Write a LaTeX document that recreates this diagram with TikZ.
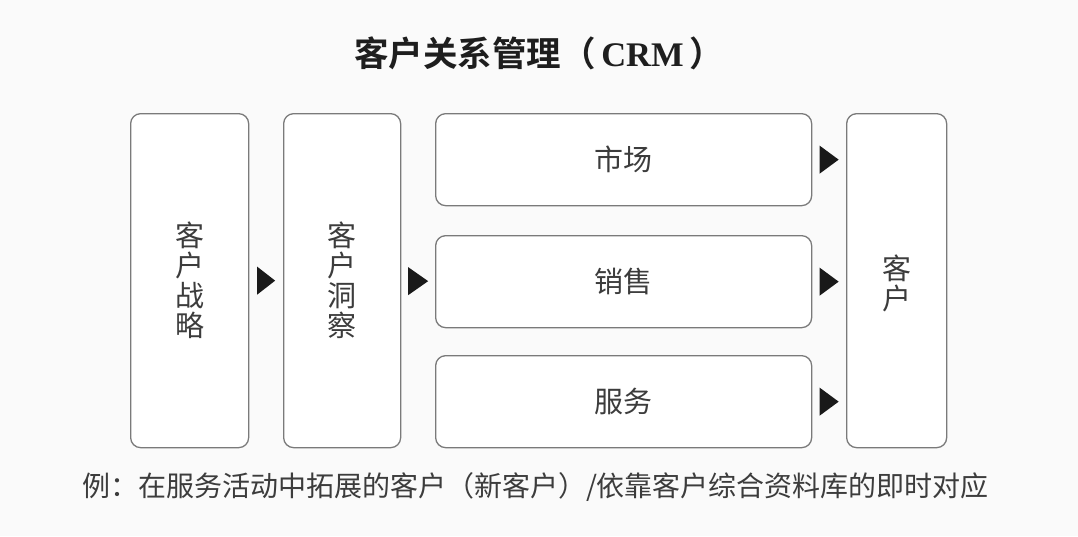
\documentclass[tikz,border=0pt]{standalone}
\usepackage{fontspec}
\usetikzlibrary{calc}
\newfontfamily\cjk{Noto Sans CJK SC}
\newfontfamily\cjkbold{Noto Sans CJK SC Bold}
\newfontfamily\serifb{Liberation Serif}
\definecolor{bgc}{HTML}{FAFAFA}
\definecolor{edgec}{HTML}{7A7A7A}
\definecolor{txtc}{HTML}{3C3C3C}
\definecolor{titc}{HTML}{1E1E1E}
\tikzset{
  box/.style={draw=edgec, line width=1.3pt, fill=white, rounded corners=10pt, inner sep=0pt, anchor=north west},
  boxtext/.style={text=txtc, font=\cjk\fontsize{29}{30}\selectfont, align=center, inner sep=0pt},
  tri/.style={fill=black!90}
}
\begin{document}
\begin{tikzpicture}[x=1pt,y=-1pt]
\fill[bgc] (0,0) rectangle (1078,536);
\useasboundingbox (0,0) rectangle (1078,536);

% title
\node[text=titc, inner sep=0pt] (title) at (539,53)
  {\cjkbold\fontsize{34.5}{36}\selectfont 客户关系管理（\,{\serifb\bfseries CRM}\,）};

% boxes
\node[box, minimum width=118pt, minimum height=334pt] (b1) at (130,113) {};
\node[box, minimum width=117pt, minimum height=334pt] (b2) at (283,113) {};
\node[box, minimum width=376pt, minimum height=92pt] (m1) at (435,113) {};
\node[box, minimum width=376pt, minimum height=92pt] (m2) at (435,235) {};
\node[box, minimum width=376pt, minimum height=92pt] (m3) at (435,355) {};
\node[box, minimum width=100pt, minimum height=334pt] (c) at (846,113) {};

% box texts
\node[boxtext] (t1) at (b1.center) {客\\户\\战\\略};
\node[boxtext] (t2) at (b2.center) {客\\户\\洞\\察};
\node[boxtext] (tm1) at (m1.center) {市场};
\node[boxtext] (tm2) at (m2.center) {销售};
\node[boxtext] (tm3) at (m3.center) {服务};
\node[boxtext] (tc) at ($(c.center)+(0,3)$) {客\\户};

% triangular arrows
\fill[tri, shift={($(b1.east)!0.5!(b2.west)$)}] (-9,-14) -- (9,0) -- (-9,14) -- cycle;
\fill[tri, shift={($(b2.east)!0.5!(m2.west)$)}] (-10,-14) -- (10,0) -- (-10,14) -- cycle;
\fill[tri, shift={($(m1.east)!0.5!(c.west |- m1.east)$)}] (-9.5,-14) -- (9.5,0) -- (-9.5,14) -- cycle;
\fill[tri, shift={($(m2.east)!0.5!(c.west |- m2.east)$)}] (-9.5,-14) -- (9.5,0) -- (-9.5,14) -- cycle;
\fill[tri, shift={($(m3.east)!0.5!(c.west |- m3.east)$)}] (-9.5,-14) -- (9.5,0) -- (-9.5,14) -- cycle;

% caption
\node[text=txtc, inner sep=0pt] (cap) at (535.5,487)
  {\cjk\fontsize{28}{30}\selectfont 例：在服务活动中拓展的客户（新客户）/依靠客户综合资料库的即时对应};
\end{tikzpicture}
\end{document}
